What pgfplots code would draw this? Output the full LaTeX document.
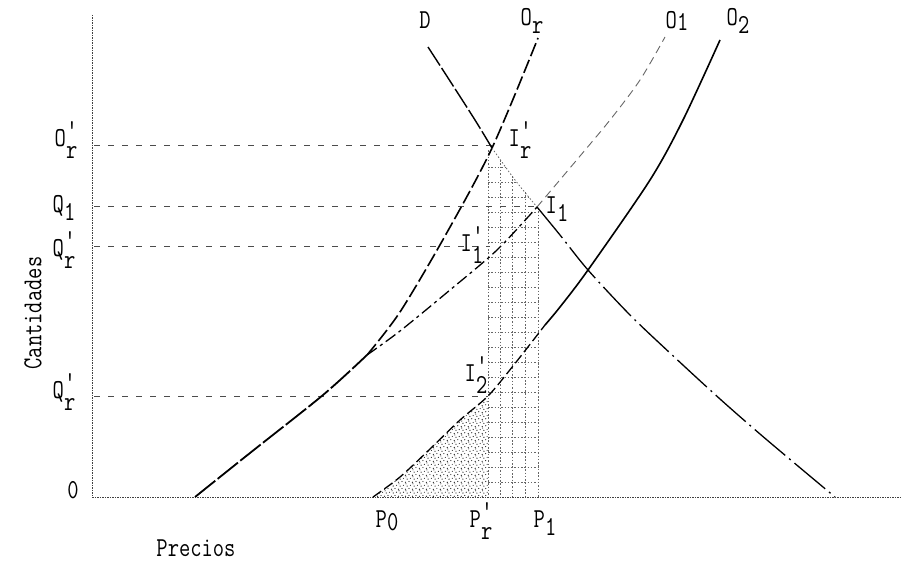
\documentclass[border=0pt]{standalone}
\usepackage{graphicx}
\usepackage{pgfplots}
\pgfplotsset{compat=1.18}
\usetikzlibrary{patterns}

% irregular stipple for the triangle under O_2
\pgfdeclarepatternformonly{stipple}{\pgfpoint{-1pt}{-1pt}}{\pgfpoint{8pt}{8pt}}{\pgfpoint{7pt}{7pt}}{%
  \pgfpathcircle{\pgfpoint{1pt}{1pt}}{0.65pt}%
  \pgfpathcircle{\pgfpoint{4.5pt}{1.8pt}}{0.6pt}%
  \pgfpathcircle{\pgfpoint{2.7pt}{4.2pt}}{0.65pt}%
  \pgfpathcircle{\pgfpoint{6pt}{5pt}}{0.55pt}%
  \pgfpathcircle{\pgfpoint{1.5pt}{6.5pt}}{0.55pt}%
  \pgfusepath{fill}}

\newcommand{\lbl}[1]{\scalebox{1}[1.25]{\fontsize{22}{24}\selectfont\ttfamily #1}}
\newcommand{\sbs}[1]{\raisebox{-0.3em}{#1}}
\newcommand{\sbp}[1]{\rlap{\kern0.02em\raisebox{0.3em}{\textquotesingle}}\raisebox{-0.45em}{#1}}

\begin{document}
\begin{tikzpicture}
\begin{axis}[
  scale only axis, width=902bp, height=567bp,
  xmin=0, xmax=902, ymin=0, ymax=567, y dir=reverse,
  hide axis, clip=false,
  guide/.style={black!70, line width=0.7bp, dash pattern=on 6bp off 8bp},
  gridline/.style={black!60, line width=0.7bp, dash pattern=on 1.5bp off 1.8bp},
]
\addplot[draw=none] coordinates {(0,0) (902,567)};

% stippled triangle between P_0 and P'_r
\addplot[draw=none, pattern=stipple, pattern color=black!85]
  coordinates {(373,497) (400,477) (430,449) (460,420) (488,396) (488,497)} -- cycle;

% dotted grid between P'_r and P_1, bounded above by D
\addplot[gridline] coordinates {(488,150) (488,497)};
\addplot[gridline] coordinates {(500,160) (500,497)};
\addplot[gridline] coordinates {(512,176) (512,497)};
\addplot[gridline] coordinates {(525,192) (525,497)};
\addplot[gridline] coordinates {(538,208) (538,497)};
\addplot[gridline] coordinates {(488,482) (538,482)};
\addplot[gridline] coordinates {(488,467) (538,467)};
\addplot[gridline] coordinates {(488,452) (538,452)};
\addplot[gridline] coordinates {(488,437) (538,437)};
\addplot[gridline] coordinates {(488,422) (538,422)};
\addplot[gridline] coordinates {(488,407) (538,407)};
\addplot[gridline] coordinates {(488,392) (538,392)};
\addplot[gridline] coordinates {(488,377) (538,377)};
\addplot[gridline] coordinates {(488,362) (538,362)};
\addplot[gridline] coordinates {(488,347) (538,347)};
\addplot[gridline] coordinates {(488,332) (538,332)};
\addplot[gridline] coordinates {(488,317) (538,317)};
\addplot[gridline] coordinates {(488,302) (538,302)};
\addplot[gridline] coordinates {(488,287) (538,287)};
\addplot[gridline] coordinates {(488,272) (538,272)};
\addplot[gridline] coordinates {(488,257) (538,257)};
\addplot[gridline] coordinates {(488,242) (538,242)};
\addplot[gridline] coordinates {(488,227) (538,227)};
\addplot[gridline] coordinates {(488,212) (538,212)};
\addplot[gridline] coordinates {(488,197) (529,197)};
\addplot[gridline] coordinates {(488,182) (517,182)};
\addplot[gridline] coordinates {(488,167) (506,167)};

% axes
\addplot[black!75, line width=0.8bp, dash pattern=on 1.5bp off 1bp]
  coordinates {(92,15) (92,497) (900,497)};

% quantity guides
\addplot[guide] coordinates {(94,145) (492,145)};
\addplot[guide] coordinates {(94,206) (537,206)};
\addplot[guide] coordinates {(94,246) (490,246)};
\addplot[guide] coordinates {(94,396) (488,396)};

% common stretch of the supply curves
\addplot[black, line width=1.8bp, smooth, dash pattern=on 26bp off 3bp]
  coordinates {(195,497) (250,453) (323,395) (367,355)};
% O_r
\addplot[black, line width=1.6bp, smooth, dash pattern=on 14bp off 4bp]
  coordinates {(367,355) (400,312) (445,236) (492,148) (538,38)};
% O_1
\addplot[black, line width=1.3bp, smooth, dash pattern=on 12bp off 4bp on 3bp off 4bp]
  coordinates {(367,355) (400,331) (450,290) (497,250) (537,207)};
\addplot[black!60, line width=0.9bp, smooth, dash pattern=on 8bp off 5bp]
  coordinates {(537,207) (575,162) (610,120) (640,80) (665,37)};
% O_2
\addplot[black, line width=1.3bp, smooth, dash pattern=on 10bp off 4bp]
  coordinates {(373,497) (400,477) (430,449) (460,420) (488,396) (513,366) (545,325)};
\addplot[black, line width=1.6bp, smooth]
  coordinates {(545,325) (560,307) (588,270) (650,180) (683,120) (720,40)};
% D
\addplot[black, line width=1.4bp, smooth, dash pattern=on 22bp off 3bp]
  coordinates {(428,47) (450,81) (475,120) (492,148)};
\addplot[black!60, line width=0.8bp, smooth, dash pattern=on 1.5bp off 2bp]
  coordinates {(492,148) (515,180) (537,207)};
\addplot[black, line width=1.3bp, smooth, dash pattern=on 40bp off 5bp on 2bp off 5bp]
  coordinates {(537,207) (560,235) (588,270) (630,315) (670,353) (720,399) (767,440) (835,497)};

% curve names
\node at (axis cs:425,20) {\lbl{D}};
\node at (axis cs:532,21) {\lbl{O\sbs{r}}};
\node at (axis cs:677,21) {\lbl{O\raisebox{-0.1em}{1}}};
\node at (axis cs:738,21) {\lbl{O\sbs{2}}};
% intersections
\node at (axis cs:520,140) {\lbl{I\sbp{r}}};
\node at (axis cs:557,209) {\lbl{I\sbs{1}}};
\node at (axis cs:472,245) {\lbl{I\sbp{1}}};
\node at (axis cs:476,375) {\lbl{I\sbp{2}}};
% quantity axis
\node at (axis cs:66,140) {\lbl{O\sbp{r}}};
\node at (axis cs:64,208) {\lbl{Q\sbs{1}}};
\node at (axis cs:64,250) {\lbl{Q\sbp{r}}};
\node at (axis cs:64,392) {\lbl{Q\sbp{r}}};
\node at (axis cs:73,490) {\lbl{0}};
\node[rotate=90] at (axis cs:33,313) {\lbl{Cantidades}};
% price axis
\node at (axis cs:387,521) {\lbl{P\raisebox{-0.1em}{0}}};
\node at (axis cs:481,521) {\lbl{P\sbp{r}}};
\node at (axis cs:545,523) {\lbl{P\sbs{1}}};
\node at (axis cs:196,548) {\lbl{Precios}};
\end{axis}
\end{tikzpicture}
\end{document}
